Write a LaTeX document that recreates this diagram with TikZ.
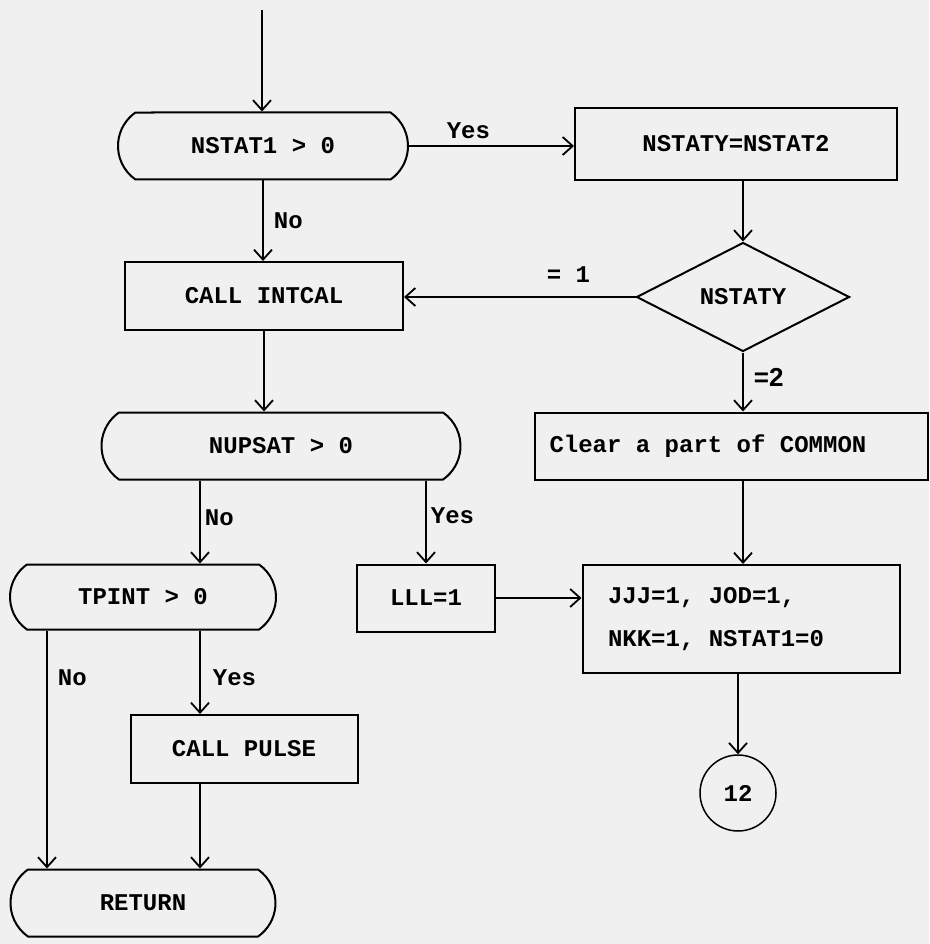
\documentclass[tikz,border=0pt]{standalone}
\usepackage{fontspec}
\setmonofont{Liberation Mono}
\setsansfont{Liberation Sans}
\usetikzlibrary{positioning,arrows.meta,calc,shapes.geometric,shapes.misc}

\begin{document}
\begin{tikzpicture}[
  x=1pt, y=-1pt,
  font=\fontsize{24}{28}\selectfont\ttfamily\bfseries,
  box/.style={draw, line width=2pt, minimum height=68pt, inner sep=0pt},
  term/.style={draw, line width=2pt, rounded rectangle, rounded rectangle arc length=110,
    minimum height=67pt, inner sep=0pt},
  dec/.style={draw, line width=2pt, diamond, minimum width=213pt, minimum height=109pt, inner sep=0pt},
  conn/.style={draw, line width=1.5pt, circle, minimum size=76pt, inner sep=0pt},
  arr/.style={-{Straight Barb[length=10pt, width=18pt]}, line width=1.8pt},
  lbl/.style={inner sep=2pt}
]
% ---- page ----
\fill[black!6] (0,0) rectangle (929,944);
\useasboundingbox (0,0) rectangle (929,944);

% ---- columns ----
\coordinate (top) at (262,10);
\coordinate (colA) at (200,0);
\coordinate (colB) at (47,0);

% ---- left branch ----
\node[term, minimum width=290pt] (nstatA) at (263,146) {NSTAT1 > 0};
\node[box, minimum width=278pt] (intcal) at (264,296) {CALL INTCAL};
\node[term, minimum width=359pt] (nupsat) at (281,446) {NUPSAT > 0};
\node[term, minimum width=266pt, minimum height=65pt] (tpint) at (143,597) {TPINT > 0};
\node[box, minimum width=138pt, minimum height=67pt] (lll) at (426,598) {LLL=1};
\node[box, minimum width=227pt] (pulse) at (244,749) {CALL PULSE};
\node[term, minimum width=265pt] (ret) at (143,903) {RETURN};

% ---- right branch ----
\node[box, minimum width=322pt, minimum height=72pt] (nstaty) at (736,144) {NSTATY=NSTAT2};
\node[dec] (sel) at (743,297) {NSTATY};
\node[box, minimum width=393pt, minimum height=67pt] (clear)
  at (731,446) {\makebox[363pt][l]{Clear a part of COMMON}};
\node[box, minimum width=317pt, minimum height=108pt] (jjj)
  at (741,619) {\makebox[266pt][l]{\begin{tabular}{@{}l@{}}JJJ=1, JOD=1,\\[15pt]NKK=1, NSTAT1=0\end{tabular}}};
\node[conn] (c12) at (738,793) {12};

% ---- arrows ----
\draw[arr] (top) -- (nstatA.north -| top);
\draw[arr] (nstatA.east) -- node[lbl, above=4pt, pos=0.36] {Yes} (nstaty.west |- nstatA.east);
\draw[arr] (nstatA.south) -- node[lbl, right=8pt] {No} (intcal.north -| nstatA.south);
\draw[arr] (nstaty.south -| sel.north) -- (sel.north);
\draw[arr] (sel.west) -- node[lbl, above=12pt, pos=0.29] {= 1} (intcal.east |- sel.west);
\draw[arr] (sel.south) -- node[lbl, right=8pt, pos=0.43, font=\fontsize{26}{30}\selectfont\sffamily\bfseries] {=2}
  (clear.north -| sel.south);
\draw[arr] (intcal.south) -- (nupsat.north -| intcal.south);
\draw[arr] (clear.south -| sel.south) -- (jjj.north -| sel.south);
\draw[arr] (nupsat.south -| colA) -- node[lbl, right=2pt, pos=0.45] {No} (tpint.north -| colA);
\draw[arr] (nupsat.south -| lll.north) -- node[lbl, right=2pt, pos=0.42] {Yes} (lll.north);
\draw[arr] (lll.east) -- (jjj.west |- lll.east);
\draw[arr] (jjj.south -| c12.north) -- (c12.north);
\draw[arr] (tpint.south -| colB) -- node[lbl, right=8pt, pos=0.2] {No} (ret.north -| colB);
\draw[arr] (tpint.south -| colA) -- node[lbl, right=10pt, pos=0.56] {Yes} (pulse.north -| colA);
\draw[arr] (pulse.south -| colA) -- (ret.north -| colA);
\end{tikzpicture}
\end{document}
